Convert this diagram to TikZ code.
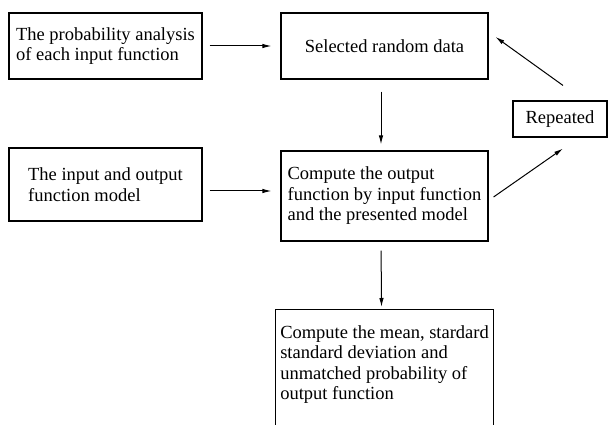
\documentclass[tikz,border=0pt]{standalone}
\usepackage{fontspec}
\setmainfont{Liberation Serif}
\usetikzlibrary{arrows.meta}

\begin{document}
\begin{tikzpicture}[
  x=1pt, y=-1pt,
  font=\fontsize{18.5}{20.5}\selectfont,
  box/.style={draw, line width=1.1pt, rectangle, align=left, inner sep=0pt},
  arr/.style={-{Latex[length=9pt,width=4.5pt]}, line width=1pt}
]
\useasboundingbox (0,0) rectangle (608,425);

\node[box, minimum width=193pt, minimum height=66pt] (prob) at (105.5,46) {The probability analysis\\of each input function};
\node[box, minimum width=207pt, minimum height=66pt] (select) at (384.5,46) {Selected random data};
\node[box, minimum width=193pt, minimum height=73pt] (model) at (105.5,184.5) {The input and output\\function model};
\node[box, minimum width=207pt, minimum height=90pt] (output) at (384.5,196) {Compute the output\\function by input function\\and the presented model};
\node[box, minimum width=94pt, minimum height=36pt] (repeat) at (560,119) {Repeated};
\node[box, anchor=north west, minimum width=218pt, inner xsep=3pt, inner ysep=16pt, text depth=110pt] (stats) at (275,309)
{Compute the mean, stardard\\standard deviation and\\unmatched probability of\\output function};

\draw[arr, shorten <=7pt, shorten >=9pt] (prob) -- (select);
\draw[arr] ([xshift=7pt,yshift=-6.5pt]model.east) -- ([xshift=-9pt,yshift=5pt]output.west);
\draw[arr, shorten <=12pt, shorten >=6pt] ([xshift=-3.5pt]select.south) -- ([xshift=-3.5pt]output.north);
\draw[arr, shorten <=9pt, shorten >=2pt] ([xshift=-3.5pt]output.south) -- ([xshift=-3pt]stats.north);

\draw[arr] ([xshift=5pt,yshift=-1pt]output.east) -- ([xshift=3pt,yshift=-11pt]repeat.south);
\draw[arr] ([xshift=3pt,yshift=15pt]repeat.north) -- ([xshift=7pt,yshift=9pt]select.east);
\end{tikzpicture}
\end{document}
